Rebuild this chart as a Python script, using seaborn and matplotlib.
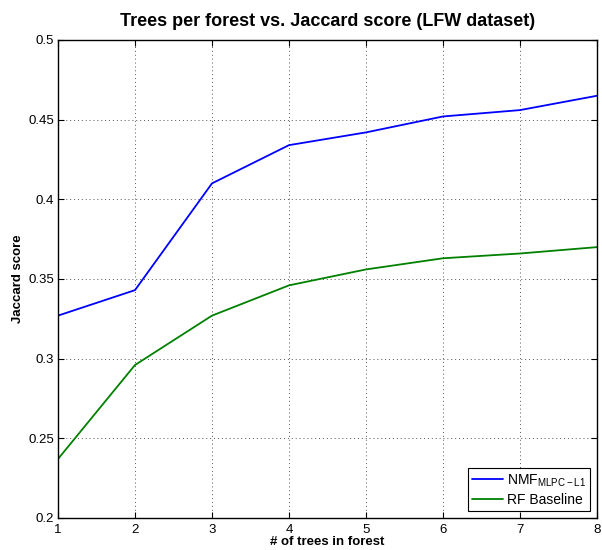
import numpy as np
import pandas as pd
import seaborn as sns
import matplotlib.pyplot as plt

# data
trees = [1, 2, 3, 4, 5, 6, 7, 8]
nmf_scores = [0.327, 0.343, 0.410, 0.434, 0.442, 0.452, 0.456, 0.465]
rf_scores = [0.237, 0.296, 0.327, 0.346, 0.356, 0.363, 0.366, 0.370]
series_names = ["NMF$_{MLPC-L1}$", "RF Baseline"]

df = pd.DataFrame({
    "trees": trees * 2,
    "score": nmf_scores + rf_scores,
    "method": [series_names[0]] * len(trees) + [series_names[1]] * len(trees),
})

sns.set_theme(style="ticks", rc={"text.color": "black", "axes.labelcolor": "black",
                                 "xtick.color": "black", "ytick.color": "black"})
plt.rcParams['font.family'] = ['Liberation Sans', 'DejaVu Sans']
plt.rcParams['mathtext.default'] = 'regular'

fig = plt.figure(figsize=(6.02, 5.5), dpi=100)
ax = fig.add_axes([0.0963, 0.0582, 0.8954, 0.8691])

sns.lineplot(data=df, x="trees", y="score", hue="method",
             palette=["#0000ff", "#008000"], linewidth=1.3, ax=ax)

ax.set_xlim(1, 8)
ax.set_ylim(0.2, 0.5)
ax.set_xticks(trees)
ax.set_yticks([0.2, 0.25, 0.3, 0.35, 0.4, 0.45, 0.5])
ax.set_yticklabels(["0.2", "0.25", "0.3", "0.35", "0.4", "0.45", "0.5"])
ax.grid(True, color="#555555", linestyle=(0, (1, 3)), linewidth=0.7)
ax.tick_params(direction="in", labelsize=9.5, length=4, width=0.8,
               top=True, right=True, pad=3)
ax.tick_params(axis="x", pad=4)
for s in ax.spines.values():
    s.set_visible(True)
    s.set_linewidth(1.0)
    s.set_color("black")

ax.set_xlabel("# of trees in forest", fontsize=9.5, fontweight="bold", labelpad=0)
ax.set_ylabel("Jaccard score", fontsize=9.5, fontweight="bold", labelpad=3)
ax.set_title("Trees per forest vs. Jaccard score (LFW dataset)",
             fontsize=13, fontweight="bold", pad=10)

leg = ax.legend(loc="lower right", fontsize=10, fancybox=False,
                framealpha=1, edgecolor="black", borderpad=0.3,
                handlelength=2.2, handletextpad=0.3, borderaxespad=0.5,
                labelspacing=0.3)
leg.get_frame().set_linewidth(0.8)

fig.savefig("out.png", dpi=100)
